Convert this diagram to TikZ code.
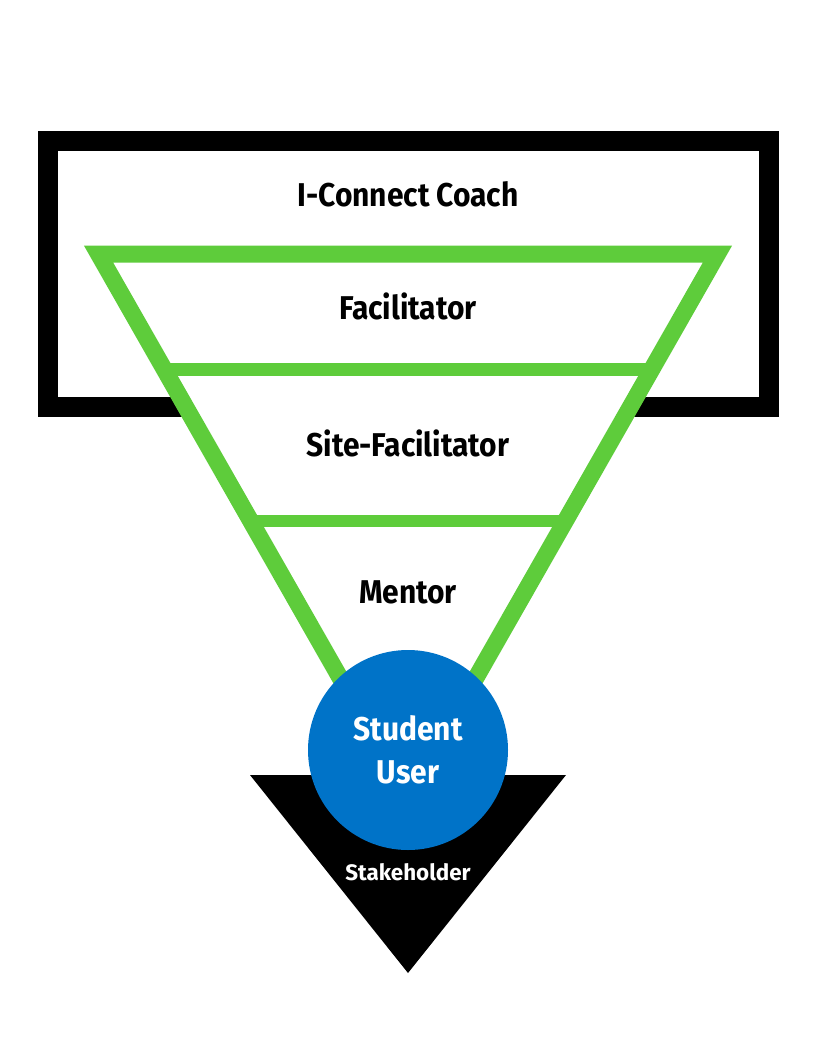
\documentclass[tikz,border=0pt]{standalone}
\usepackage{fontspec}
\setmainfont{Fira Sans}[FakeStretch=0.91]
\newfontfamily\widefont{Fira Sans}
\usetikzlibrary{calc}

\definecolor{funnelgreen}{HTML}{5ECC3B}
\definecolor{userblue}{HTML}{0073C8}

\tikzset{
    label text/.style={anchor=base, font=\fontsize{24.7}{28}\selectfont\bfseries},
    divider/.style={draw=funnelgreen, line width=9.4pt}
}

\begin{document}
\begin{tikzpicture}[x=0.75pt, y=-0.75pt]
    % Page size in pixels
    \useasboundingbox (0,0) rectangle (816,1056);

    % Coach frame
    \draw[black, line width=15pt] (48,140.5) rectangle (769,407);

    % Funnel corners
    \coordinate (tl) at (98.5,254);
    \coordinate (tr) at (717.5,254);
    \coordinate (apex) at (408,797);

    % Green funnel with white inside
    \draw[funnelgreen, fill=white, line width=12.75pt, miter limit=10] (tl) -- (tr) -- (apex) -- cycle;
    \draw[divider] ($(tl)!0.2127!(apex)$) -- ($(tr)!0.2127!(apex)$);
    \draw[divider] ($(tl)!0.4917!(apex)$) -- ($(tr)!0.4917!(apex)$);

    % Stakeholder wedge
    \fill[black] (250,775) -- (566,775) -- (408,973) -- cycle;

    % Student circle
    \fill[userblue] (408,750) circle (100);

    \node[label text] (coach) at (408,206) {I-Connect Coach};
    \node[label text] (facil) at (408,319) {Facilitator};
    \node[label text] (site) at (408,456) {Site-Facilitator};
    \node[label text] (mentor) at (408,603) {Mentor};
    \node[label text, text=white] (student) at (408,740) {Student};
    \node[label text, text=white] (user) at (408,783) {User};
    \node[anchor=base, text=white, font=\widefont\fontsize{16.8}{19}\selectfont\bfseries] (stake) at (408,880.5) {Stakeholder};
\end{tikzpicture}
\end{document}
